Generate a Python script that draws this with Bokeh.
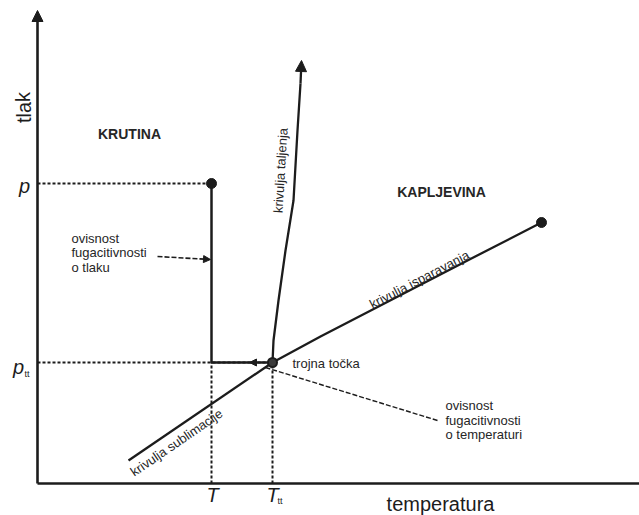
from bokeh.plotting import figure
from bokeh.models import Range1d, Arrow, NormalHead
from bokeh.core.properties import value
from bokeh.embed import file_html
from bokeh.resources import INLINE

# ---- data (arbitrary units, origin at the corner of the axes) ----
T_state, p_state = 174, 300          # state point (T, p)
T_tt, p_tt = 235, 121                # triple point
sub_T = [91, 235]                    # sublimation curve
sub_p = [23, 121]
evap_T = [235, 283, 430, 504]        # vaporisation curve
evap_p = [121, 147, 223, 261]
melt_T = [235, 236, 241, 248, 256, 260, 263]   # melting curve
melt_p = [121, 143, 183, 233, 283, 353, 400]
melt_tip_T, melt_tip_p = 264, 423
y_axis_top = 473
x_axis_end = 602

INK = "#1c1c1c"
TXT = "#262626"
F = value("Liberation Sans")

p = figure(width=639, height=515, x_range=Range1d(-37, 602), y_range=Range1d(-32, 483),
           output_backend="svg", toolbar_location=None, min_border=0,
           x_axis_location=None, y_axis_location=None)
p.grid.visible = False
p.outline_line_color = None

# axes
p.line([0, x_axis_end], [0, 0], line_color=INK, line_width=2.6)
p.add_layout(Arrow(end=NormalHead(size=11, fill_color=INK, line_color=INK),
                   x_start=0, y_start=0, x_end=0, y_end=y_axis_top,
                   line_color=INK, line_width=2.6))

# dotted guide lines
DOT = "3 2"
p.line([0, T_state], [p_state, p_state], line_color=INK, line_width=2, line_dash=DOT)
p.line([0, T_tt], [p_tt, p_tt], line_color=INK, line_width=2, line_dash=DOT)
p.line([T_state, T_state], [0, p_tt], line_color=INK, line_width=2, line_dash=DOT)
p.line([T_tt, T_tt], [0, p_tt], line_color=INK, line_width=2, line_dash=DOT)

# path: pressure then temperature dependence
p.line([T_state, T_state, T_tt], [p_state, p_tt, p_tt], line_color=INK, line_width=2.5)
p.add_layout(Arrow(end=NormalHead(size=7, fill_color=INK, line_color=INK),
                   x_start=T_state + 52, y_start=p_tt, x_end=T_state + 38, y_end=p_tt,
                   line_color=INK, line_width=0))

# phase boundaries
p.line(sub_T, sub_p, line_color=INK, line_width=2.3)
p.line(evap_T, evap_p, line_color=INK, line_width=2.3)
p.line(melt_T, melt_p, line_color=INK, line_width=2.3)
p.add_layout(Arrow(end=NormalHead(size=11, fill_color=INK, line_color=INK),
                   x_start=melt_T[-1], y_start=melt_p[-1], x_end=melt_tip_T, y_end=melt_tip_p,
                   line_color=INK, line_width=2.3))

# points
p.scatter([T_state, evap_T[-1]], [p_state, evap_p[-1]], size=10, fill_color=INK, line_color=INK)
p.scatter([T_tt], [p_tt], size=9, fill_color="#3a3a3a", line_color=INK, line_width=2)

# annotation leaders
p.add_layout(Arrow(end=NormalHead(size=7, fill_color=INK, line_color=INK),
                   x_start=120, y_start=227, x_end=T_state - 1, y_end=224,
                   line_color=INK, line_width=1.6, line_dash="5 2"))
p.line([400, 228], [63, 116], line_color=INK, line_width=1.4, line_dash="5 2")

# axis titles / regions
p.text(x=[-14], y=[376], text=["tlak"], angle=1.5708, text_font=F, text_font_size="20px",
       text_align="center", text_baseline="middle", text_color=INK)
p.text(x=[92, 404], y=[350, 292], text=["KRUTINA", "KAPLJEVINA"], text_font=F,
       text_font_size="14px", text_font_style="bold", text_align="center",
       text_baseline="middle", text_color=TXT)

# axis symbols
p.text(x=[-13, -19, 175, 235], y=[298, 117, -11, -11], text=["p", "p", "T", "T"],
       text_font=F, text_font_size="20px", text_font_style="italic",
       text_align="center", text_baseline="middle", text_color=INK)
p.text(x=[-13, 240], y=[110, -17], text=["tt", "tt"], text_font=F, text_font_size="9px",
       text_align="left", text_baseline="middle", text_color=INK)
p.text(x=[403], y=[-20], text=["temperatura"], text_font=F, text_font_size="20px",
       text_align="center", text_baseline="alphabetic", text_color=INK)

# annotation texts
p.text(x=[34, 34, 34], y=[245, 231, 216], text=["ovisnost", "fugacitivnosti", "o tlaku"],
       text_font=F, text_font_size="13px", text_align="left", text_baseline="middle",
       text_color=TXT)
p.text(x=[408, 408, 408], y=[78, 63, 49],
       text=["ovisnost", "fugacitivnosti", "o temperaturi"],
       text_font=F, text_font_size="13px", text_align="left", text_baseline="middle",
       text_color=TXT)
p.text(x=[255], y=[120], text=["trojna točka"], text_font=F, text_font_size="13px",
       text_align="left", text_baseline="middle", text_color=TXT)

# curve labels
p.text(x=[243], y=[313], text=["krivulja taljenja"], angle=1.51, text_font=F,
       text_font_size="13px", text_align="center", text_baseline="middle", text_color=TXT)
p.text(x=[382], y=[204], text=["krivulja isparavanja"], angle=0.48, text_font=F,
       text_font_size="13px", text_align="center", text_baseline="middle", text_color=TXT)
p.text(x=[139], y=[41], text=["krivulja sublimacije"], angle=0.60, text_font=F,
       text_font_size="13px", text_align="center", text_baseline="middle", text_color=TXT)

open("out.html", "w").write(file_html(p, INLINE))
